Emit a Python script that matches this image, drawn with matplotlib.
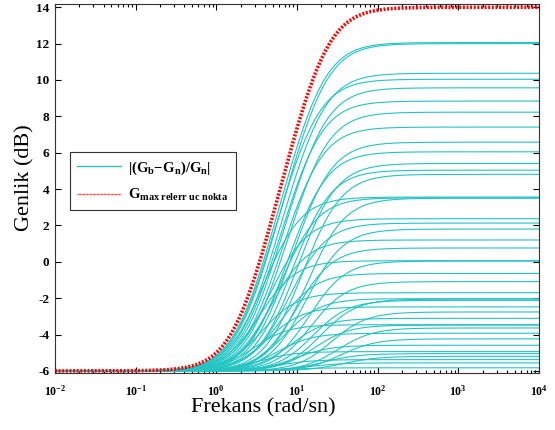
import numpy as np
import matplotlib
matplotlib.use("Agg")
import matplotlib.pyplot as plt
from matplotlib.ticker import FixedLocator, NullFormatter, FuncFormatter

plt.rcParams['font.family'] = ['Liberation Serif', 'DejaVu Serif']
plt.rcParams['mathtext.fontset'] = 'custom'
plt.rcParams['mathtext.rm'] = 'Liberation Serif'
plt.rcParams['mathtext.bf'] = 'Liberation Serif:bold'
plt.rcParams['mathtext.it'] = 'Liberation Serif:italic'
plt.rcParams['mathtext.default'] = 'bf'
plt.rcParams['axes.unicode_minus'] = False

# ---- data ----
low_gain_db = -6.0                      # common low-frequency level
# plateau (high-frequency) level of each cyan curve, dB
plateau_db = [12.06, 12.0, 10.37, 10.04, 9.57, 8.84, 8.23, 7.41, 6.58, 6.05,
              5.41, 5.04, 4.81, 3.56, 3.52, 3.5, 2.37, 2.13, 1.80, 1.20,
              0.76, 0.06, 0.04, -0.64, -1.09, -1.70, -2.03, -2.05, -2.12,
              -2.48, -2.76, -3.11, -3.46, -3.48, -3.64, -3.93, -4.24, -4.59,
              -4.94, -5.05, -5.2, -5.38, -5.56, -5.83]
# log10 of the frequency where each cyan curve starts to rise (rad/s)
log_rise = [0.33, 0.36, 0.40, 0.34, 0.45, 0.42, 0.52, 0.48, 0.62, 0.58,
            0.72, 0.66, 0.80, 0.35, 0.55, 0.88, 0.45, 0.70, 0.92, 0.50,
            0.82, 0.38, 1.00, 0.65, 1.05, 0.45, 0.75, 1.20, 1.10,
            0.55, 1.35, 0.85, 0.40, 1.15, 1.45, 0.70, 1.50, 0.95,
            0.50, 1.30, 1.55, 0.75, 1.10, 0.85]
# envelope curve (red)
env_plateau_db = 14.0
env_log_rise = 0.29

xticks = [1e-2, 1e-1, 1e0, 1e1, 1e2, 1e3, 1e4]
yticks = [-6, -4, -2, 0, 2, 4, 6, 8, 10, 12, 14]
xlim = (1e-2, 1e4)
ylim = (-6.1, 14.18)


def lead_db(w, lo_db, hi_db, log_z):
    z = 10 ** log_z
    p = z * 10 ** ((hi_db - lo_db) / 20.0)
    return lo_db + 10 * np.log10(1 + (w / z) ** 2) - 10 * np.log10(1 + (w / p) ** 2)


w = np.logspace(-2, 4, 1500)

fig = plt.figure(figsize=(5.55, 4.30), dpi=100)
ax = fig.add_axes([55 / 555, 1 - 372.7 / 430, (539 - 55) / 555, (372.7 - 4) / 430])

cyan = '#22c4c4'
first = True
for P, lz in zip(plateau_db, log_rise):
    ax.semilogx(w, lead_db(w, low_gain_db, P, lz), color=cyan, lw=0.8,
                label=r'$\mathbf{|(G_b\!-\!G_n)/G_n|}$' if first else None)
    first = False

ax.semilogx(w, lead_db(w, low_gain_db, env_plateau_db, env_log_rise), color='red',
            lw=2.6, linestyle=(0, (0.55, 0.45)),
            label=r'$\mathbf{G_{max\ relerr\ uc\ nokta}}$')

ax.set_xlim(*xlim)
ax.set_ylim(*ylim)
ax.set_yticks(yticks)
ax.xaxis.set_major_locator(FixedLocator(xticks))
minor = [m * d for d in xticks[:-1] for m in range(2, 10)]
ax.xaxis.set_minor_locator(FixedLocator(minor))
ax.xaxis.set_minor_formatter(NullFormatter())
ax.xaxis.set_major_formatter(FuncFormatter(lambda v, pos: r'$\mathbf{10^{%d}}$' % int(round(np.log10(v)))))
ax.tick_params(which='both', direction='in', top=True, right=True, width=0.8)
ax.tick_params(which='major', length=4)
ax.tick_params(which='minor', length=2)
ax.tick_params(axis='x', labelsize=8.5, pad=8)
ax.tick_params(axis='y', labelsize=9.5, pad=4)
for lab in ax.get_yticklabels():
    lab.set_fontweight('bold')
for s in ax.spines.values():
    s.set_linewidth(0.8)
    s.set_color('#333333')

ax.set_xlabel('Frekans (rad/sn)', fontsize=16)
ax.xaxis.set_label_coords((263 - 55) / 484, -(408 - 372.7) / 368.7, transform=ax.transAxes)
ax.xaxis.label.set_va('center')
ax.set_ylabel('Genlik (dB)', fontsize=16)
ax.yaxis.set_label_coords(-(55 - 25) / 484, (372.7 - 178) / 368.7, transform=ax.transAxes)
ax.yaxis.label.set_va('center')

leg = ax.legend(loc='upper left', bbox_to_anchor=(70 / 555, 1 - 152 / 430),
                bbox_transform=fig.transFigure, fancybox=False, framealpha=1,
                edgecolor='#333333', fontsize=10.5, handlelength=3.0,
                borderpad=0.5, labelspacing=0.7, handletextpad=0.5,
                borderaxespad=0)
leg.get_frame().set_linewidth(0.8)
for line in leg.get_lines():
    line.set_linewidth(1.0)

fig.savefig('out.png', dpi=100)
